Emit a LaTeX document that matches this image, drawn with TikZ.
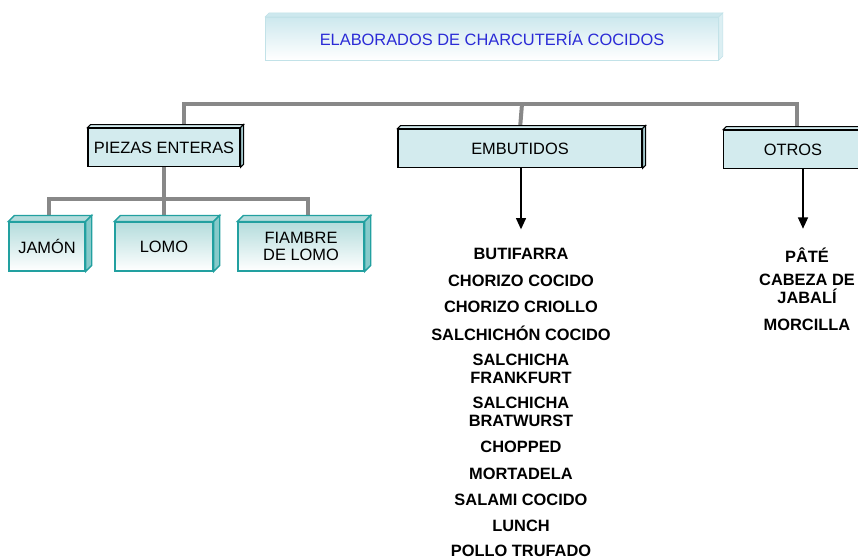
\documentclass[tikz,border=0pt]{standalone}
\usepackage{fontspec}
\setmainfont{Liberation Sans}
\usetikzlibrary{arrows.meta}
\definecolor{titleblue}{HTML}{2B2BD6}
\definecolor{titleedge}{HTML}{C2E2E8}
\definecolor{titletop}{HTML}{CDE8EE}
\definecolor{groupfill}{HTML}{D3EBEE}
\definecolor{groupside}{HTML}{A3C8CC}
\definecolor{cutedge}{HTML}{22A0A0}
\definecolor{cuttop}{HTML}{B4DCDC}
\definecolor{cutside}{HTML}{86CACA}
\definecolor{linkgray}{HTML}{888888}
% top and right faces of a box
\newcommand\slab[4]{%
  \filldraw[#3] (#1.north west) -- ++(#2,-#2) -- ([shift={(#2,-#2)}]#1.north east) -- (#1.north east) -- cycle;
  \filldraw[#4] (#1.north east) -- ([shift={(#2,-#2)}]#1.north east) -- ([shift={(#2,-#2)}]#1.south east) -- (#1.south east) -- cycle;}
\begin{document}
\begin{tikzpicture}[
  x=0.75pt, y=-0.75pt,
  head/.style={draw=titleedge, top color=titletop, bottom color=white, text=titleblue, minimum width=340pt, minimum height=32pt, font=\fontsize{12.3}{13.5}\selectfont},
  group/.style={draw, line width=0.8pt, fill=groupfill, minimum height=29pt, inner xsep=2pt, font=\fontsize{12.3}{13.5}\selectfont},
  cut/.style={draw=cutedge, line width=1pt, top color=cuttop, bottom color=white, minimum height=36.5pt, align=center, font=\fontsize{12.3}{13}\selectfont},
  item/.style={align=center, inner sep=0pt, font=\bfseries\fontsize{12.3}{13.5}\selectfont},
  link/.style={draw=linkgray, line width=3pt},
  arrow/.style={line width=1.1pt, -{Triangle[width=7.5pt,length=8.5pt]}}
]
\useasboundingbox (0,0) rectangle (858,560);
\node[head] (title) at (492,38.5) {ELABORADOS DE CHARCUTERÍA COCIDOS};
\node[group, minimum width=114pt] (pe) at (164,147.5) {PIEZAS ENTERAS};
\node[group, minimum width=183pt] (em) at (520,148.5) {EMBUTIDOS};
\node[group, minimum width=104pt] (ot) at (793,149.5) {OTROS};
\node[cut, minimum width=57pt] (ja) at (47,246.5) {JAMÓN};
\node[cut, minimum width=73.5pt] (lo) at (164,246.5) {LOMO};
\node[cut, minimum width=94.5pt] (fi) at (301,246.5) {FIAMBRE\\DE LOMO};
\foreach \y/\t [count=\i] in {254/BUTIFARRA, 281/CHORIZO COCIDO, 307/CHORIZO CRIOLLO,
    333/SALCHICHÓN COCIDO, 369/{SALCHICHA\\FRANKFURT}, 412/{SALCHICHA\\BRATWURST},
    447/CHOPPED, 474/MORTADELA, 500/SALAMI COCIDO, 526/LUNCH, 551/POLLO TRUFADO}
  \node[item] (em\i) at (521,\y) {\t};
\foreach \y/\t [count=\i] in {255/PÂTÉ, 289/{CABEZA DE\\JABALÍ}, 325/MORCILLA}
  \node[item] (ot\i) at (807,\y) {\t};
% connectors
\coordinate (top) at (522,104);
\coordinate (fork) at (164,199);
\draw[link] ([xshift=15pt]pe.north) |- (top) -| ([xshift=3pt]ot.north);
\draw[link] (em.north) -- (top);
\draw[link] (pe.south) -- (lo.north);
\draw[link] ([xshift=1.5pt]ja.north) |- (fork) -| ([xshift=5.25pt]fi.north);
\draw[arrow, shorten >=14pt] (em.south -| em1) -- (em1.north);
\draw[arrow, shorten >=14pt] ([xshift=-3pt]ot.south -| ot1) -- ([xshift=-3pt]ot1.north);
% box faces
\slab{title}{4}{draw=titleedge, fill=titletop}{draw=titleedge, fill=titletop!70}
\slab{pe}{3}{draw, line width=0.8pt, fill=groupfill}{draw, line width=0.8pt, fill=groupside}
\slab{em}{3}{draw, line width=0.8pt, fill=groupfill}{draw, line width=0.8pt, fill=groupside}
\slab{ot}{3}{draw, line width=0.8pt, fill=groupfill}{draw, line width=0.8pt, fill=groupside}
\foreach \b in {ja,lo,fi}{
  \slab{\b}{6}{draw=cutedge, line width=1pt, fill=cuttop}{draw=cutedge, line width=1pt, fill=cutside}}
\end{tikzpicture}
\end{document}
